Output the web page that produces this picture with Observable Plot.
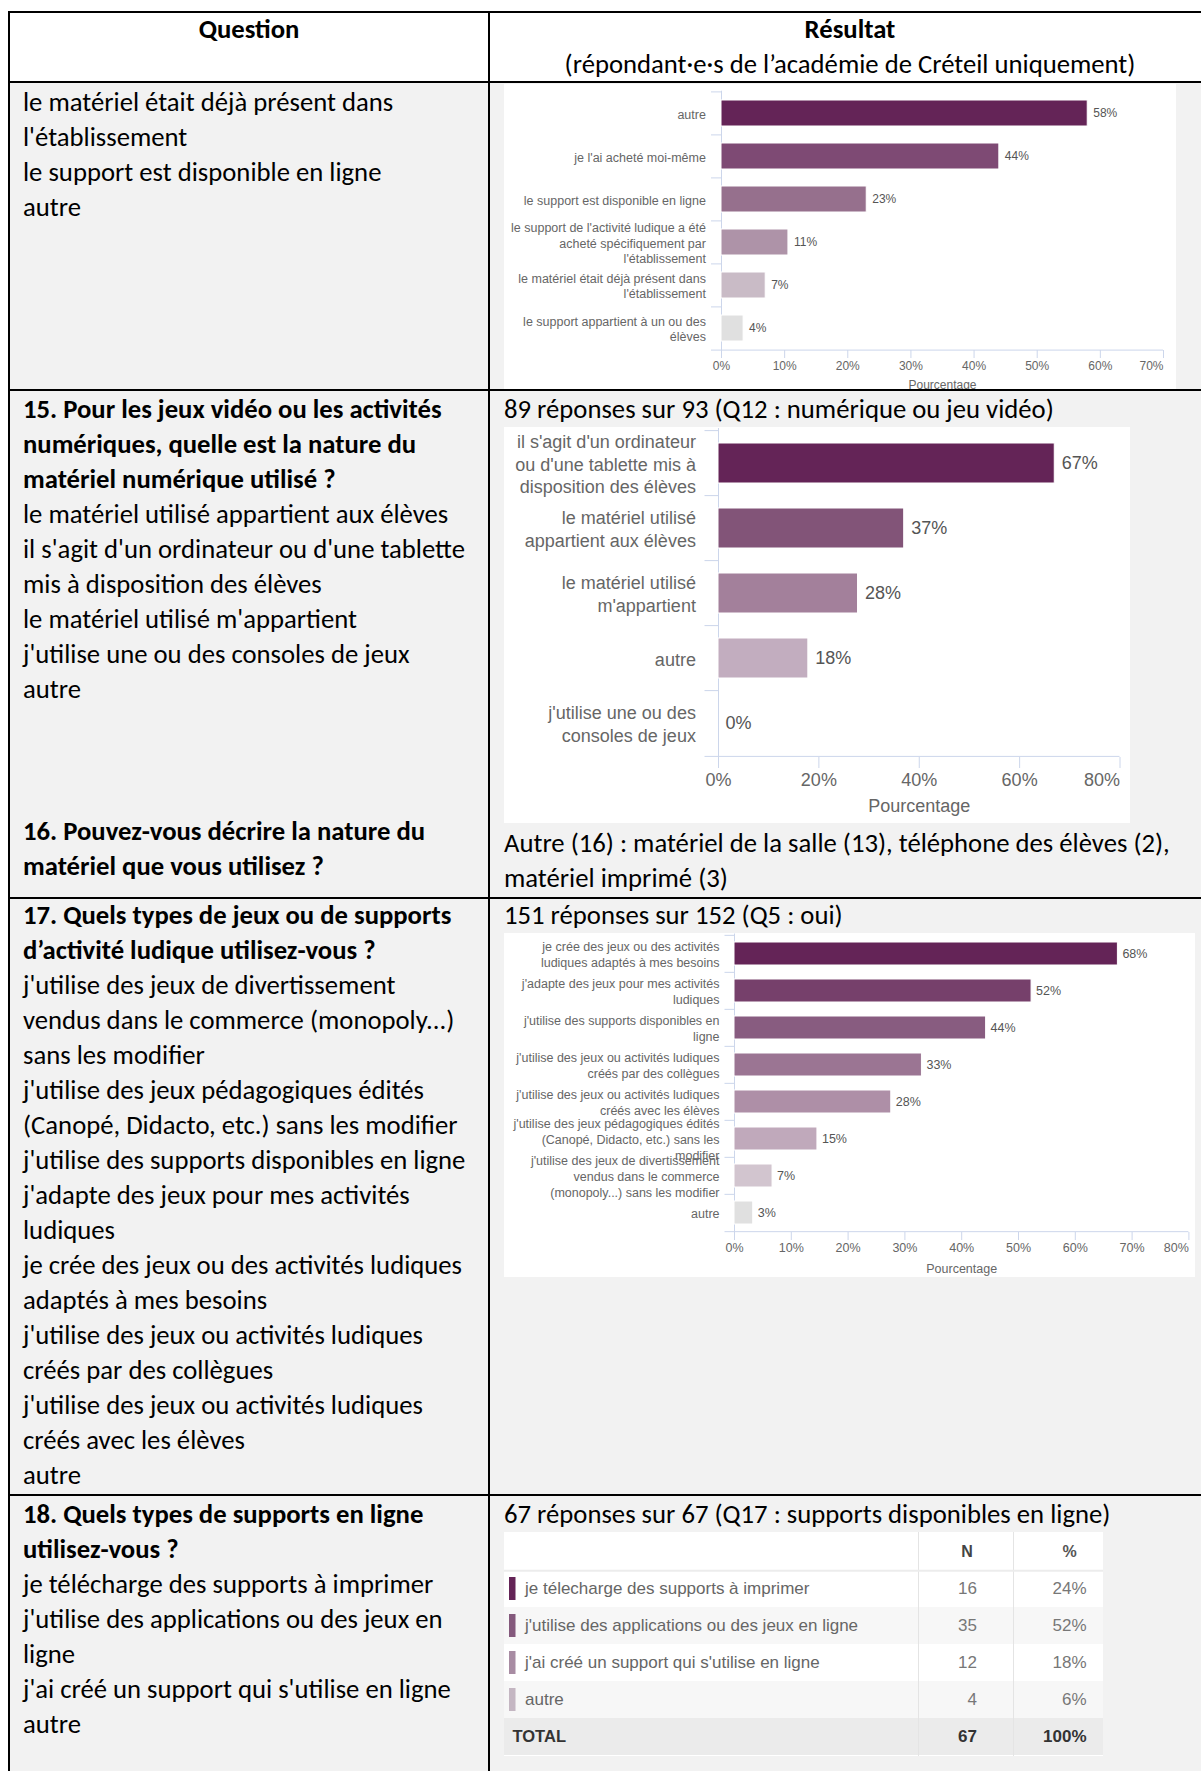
<!DOCTYPE html>
<html><head><meta charset="utf-8">
<script src="https://cdn.jsdelivr.net/npm/d3@7"></script>
<script src="https://cdn.jsdelivr.net/npm/@observablehq/plot@0.6"></script>
<style>
body{margin:0;background:#fff;}
#page{position:relative;width:1201px;height:1771px;overflow:hidden;background:#fff;font-family:Carlito,Calibri,Lato,sans-serif;color:#000;}
.txt{position:absolute;font-size:26.7px;line-height:35px;white-space:pre;}
.b{font-weight:bold;}
.c{text-align:center;}
.bg{position:absolute;background:#f2f2f2;}
.hl{position:absolute;height:2px;background:#000;}
.vl{position:absolute;width:2px;background:#000;}
.chart{position:absolute;background:#fff;overflow:hidden;}
.chart svg{display:block;}
</style></head>
<body><div id="page"></div>
<script>
// ---------- data ----------
const q14Categories = ["autre","je l'ai acheté moi-même","le support est disponible en ligne","le support de l'activité ludique a été acheté spécifiquement par l'établissement","le matériel était déjà présent dans l'établissement","le support appartient à un ou des élèves"];
const q14Labels = ["autre","je l'ai acheté moi-même","le support est disponible en ligne","le support de l'activité ludique a été\nacheté spécifiquement par\nl'établissement","le matériel était déjà présent dans\nl'établissement","le support appartient à un ou des\nélèves"];
const q14Values = [58, 44, 23, 10.6, 7, 3.5];
const q14Ticks = [0, 10, 20, 30, 40, 50, 60, 70];

const q15Categories = ["il s'agit d'un ordinateur ou d'une tablette mis à disposition des élèves","le matériel utilisé appartient aux élèves","le matériel utilisé m'appartient","autre","j'utilise une ou des consoles de jeux"];
const q15Labels = ["il s'agit d'un ordinateur\nou d'une tablette mis à\ndisposition des élèves","le matériel utilisé\nappartient aux élèves","le matériel utilisé\nm'appartient","autre","j'utilise une ou des\nconsoles de jeux"];
const q15Values = [67, 37, 27.8, 17.9, 0];
const q15Ticks = [0, 20, 40, 60, 80];

const q17Categories = ["je crée des jeux ou des activités ludiques adaptés à mes besoins","j'adapte des jeux pour mes activités ludiques","j'utilise des supports disponibles en ligne","j'utilise des jeux ou activités ludiques créés par des collègues","j'utilise des jeux ou activités ludiques créés avec les élèves","j'utilise des jeux pédagogiques édités (Canopé, Didacto, etc.) sans les modifier","j'utilise des jeux de divertissement vendus dans le commerce (monopoly...) sans les modifier","autre"];
const q17Labels = ["je crée des jeux ou des activités\nludiques adaptés à mes besoins","j'adapte des jeux pour mes activités\nludiques","j'utilise des supports disponibles en\nligne","j'utilise des jeux ou activités ludiques\ncréés par des collègues","j'utilise des jeux ou activités ludiques\ncréés avec les élèves","j'utilise des jeux pédagogiques édités\n(Canopé, Didacto, etc.) sans les\nmodifier","j'utilise des jeux de divertissement\nvendus dans le commerce\n(monopoly...) sans les modifier","autre"];
const q17Values = [67.5, 52.3, 44.3, 33, 27.6, 14.6, 6.7, 3.3];
const q17Ticks = [0, 10, 20, 30, 40, 50, 60, 70, 80];

const q18Labels = ["je télecharge des supports à imprimer","j'utilise des applications ou des jeux en ligne","j'ai créé un support qui s'utilise en ligne","autre"];
const q18N = [16, 35, 12, 4];
const q18Pct = [24, 52, 18, 6];
const q18TotalN = 67;
const q18TotalPct = 100;

// ---------- styles ----------
const q14Colors = ["#642457","#7e4a74","#96708d","#ae93a8","#c9bbc6","#e0e0e0"];
const q15Colors = ["#642457","#825478","#a3809b","#c2adbf","#e0e0e0"];
const q17Colors = ["#642457","#76406b","#885c80","#9b7593","#ae8fa7","#c0a9bb","#d2c5cf","#e0e0e0"];
const q18Colors = ["#642457","#84597c","#a88ca3","#c4b6c2"];
const q18RowFills = ["#ffffff","#ffffff","#f7f7f7","#ffffff","#f7f7f7","#ebebeb"];
const AXIS = "#ccd6eb";
const HC_FONT = "'Liberation Sans', Arial, Helvetica, sans-serif";

const page = document.getElementById("page");
function box(cls, l, t, w, h) {
  const d = document.createElement("div");
  d.className = cls;
  d.style.left = l + "px"; d.style.top = t + "px";
  if (w != null) d.style.width = w + "px";
  if (h != null) d.style.height = h + "px";
  page.appendChild(d);
  return d;
}
const SHIFT = -1;
function lines(x, centerY, arr, extra, w) {
  arr.forEach((s, i) => {
    const d = box("txt" + (extra ? " " + extra : ""), x, centerY - 17.5 + SHIFT + i * 35, w);
    d.textContent = s;
  });
}

// backgrounds & borders
box("bg", 9, 82, 1192, 1689);
[11, 81, 389, 897, 1494].forEach(y => box("hl", 8, y, 1193));
box("vl", 8, 11, null, 1760);
box("vl", 488, 11, null, 1760);

// header
lines(9, 30, ["Question"], "b c", 480);
lines(489, 30, ["Résultat"], "b c", 722);
lines(489, 65, ["(répondant·e·s de l’académie de Créteil uniquement)"], "c", 722);

// left column
lines(23, 103, ["le matériel était déjà présent dans","l'établissement","le support est disponible en ligne","autre"]);
lines(23, 410, ["15. Pour les jeux vidéo ou les activités","numériques, quelle est la nature du","matériel numérique utilisé ?"], "b");
lines(23, 515, ["le matériel utilisé appartient aux élèves","il s'agit d'un ordinateur ou d'une tablette","mis à disposition des élèves","le matériel utilisé m'appartient","j'utilise une ou des consoles de jeux","autre"]);
lines(23, 832, ["16. Pouvez-vous décrire la nature du","matériel que vous utilisez ?"], "b");
lines(23, 916, ["17. Quels types de jeux ou de supports","d’activité ludique utilisez-vous ?"], "b");
lines(23, 986, ["j'utilise des jeux de divertissement","vendus dans le commerce (monopoly...)","sans les modifier","j'utilise des jeux pédagogiques édités","(Canopé, Didacto, etc.) sans les modifier","j'utilise des supports disponibles en ligne","j'adapte des jeux pour mes activités","ludiques","je crée des jeux ou des activités ludiques","adaptés à mes besoins","j'utilise des jeux ou activités ludiques","créés par des collègues","j'utilise des jeux ou activités ludiques","créés avec les élèves","autre"]);
lines(23, 1515, ["18. Quels types de supports en ligne","utilisez-vous ?"], "b");
lines(23, 1585, ["je télécharge des supports à imprimer","j'utilise des applications ou des jeux en","ligne","j'ai créé un support qui s'utilise en ligne","autre"]);

// right column texts
lines(504, 410, ["89 réponses sur 93 (Q12 : numérique ou jeu vidéo)"]);
lines(504, 844, ["Autre (16) : matériel de la salle (13), téléphone des élèves (2),","matériel imprimé (3)"]);
lines(504, 916, ["151 réponses sur 152 (Q5 : oui)"]);
lines(504, 1515, ["67 réponses sur 67 (Q17 : supports disponibles en ligne)"]);

// ---------- bar charts ----------
function barChart(o) {
  const data = o.categories.map((c, i) => ({cat: c, label: o.labels[i], value: o.values[i], color: o.colors[i]}));
  const n = data.length;
  const max = d3.max(o.ticks);
  const step = (o.height - o.mt - o.mb) / n;
  const unit = (o.width - o.ml - o.mr) / max;
  const tickUnits = o.bandTick / unit;
  const last = o.categories[n - 1];
  return Plot.plot({
    width: o.width, height: o.height,
    marginLeft: o.ml, marginRight: o.mr, marginTop: o.mt, marginBottom: o.mb,
    style: {fontFamily: HC_FONT, fontSize: o.tickFont + "px", background: "transparent", overflow: "visible"},
    x: {domain: [0, max]},
    y: {domain: o.categories, paddingInner: o.pad, paddingOuter: o.pad / 2, axis: null},
    color: {type: "identity"},
    marks: [
      Plot.ruleY(o.categories, {y: d => d, dy: -step / 2, x1: -tickUnits, x2: 0, stroke: AXIS}),
      Plot.ruleY([last], {y: d => d, dy: step / 2, x1: -tickUnits, x2: max, stroke: AXIS}),
      Plot.ruleX([0], {stroke: AXIS}),
      Plot.axisX(o.ticks, {tickFormat: d => d === max ? "" : d + "%", tickSize: o.tickSize, tickPadding: o.tickPadding, stroke: AXIS, fill: "#666", fontSize: o.tickFont, label: null}),
      Plot.text([max], {x: d => d, text: d => d + "%", frameAnchor: "bottom", lineAnchor: "top", textAnchor: "end", dx: 0, dy: o.tickSize + o.tickPadding, fill: "#666", fontSize: o.tickFont}),
      Plot.text(["Pourcentage"], {frameAnchor: "bottom", dy: o.titleDy, fill: "#666", fontSize: o.tickFont}),
      Plot.barX(data, {x: "value", y: "cat", fill: "color", stroke: "#fff", strokeWidth: 1}),
      Plot.text(data, {x: "value", y: "cat", text: d => Math.round(d.value) + "%", textAnchor: "start", dx: o.valDx, fill: "#555", fontSize: o.valFont}),
      Plot.text(data, {y: "cat", text: "label", frameAnchor: "left", textAnchor: "end", dx: o.labelDx, fill: "#666", fontSize: o.labelFont, lineHeight: o.lineHeight})
    ]
  });
}
function place(svg, l, t, w, h) {
  const d = box("chart", l, t, w, h);
  d.appendChild(svg);
}

place(barChart({categories: q14Categories, labels: q14Labels, values: q14Values, colors: q14Colors, ticks: q14Ticks,
  width: 672, height: 330, ml: 217, mr: 13, mt: 6.7, mb: 64, pad: 0.4,
  bandTick: 10, tickSize: 8, tickPadding: 3, tickFont: 12, titleDy: 38,
  valDx: 5.5, valFont: 12, labelDx: -15.6, labelFont: 12.5, lineHeight: 1.25}), 504, 84, 672, 305);

place(barChart({categories: q15Categories, labels: q15Labels, values: q15Values, colors: q15Colors, ticks: q15Ticks,
  width: 626, height: 396, ml: 214, mr: 10.5, mt: 1, mb: 66, pad: 0.39,
  bandTick: 13.5, tickSize: 11, tickPadding: 5, tickFont: 18, titleDy: 54,
  valDx: 7, valFont: 18, labelDx: -22.6, labelFont: 18, lineHeight: 1.25}), 504, 427, 626, 396);

place(barChart({categories: q17Categories, labels: q17Labels, values: q17Values, colors: q17Colors, ticks: q17Ticks,
  width: 691, height: 344, ml: 230, mr: 6.6, mt: 0.5, mb: 45, pad: 0.375,
  bandTick: 9.5, tickSize: 8, tickPadding: 3, tickFont: 12.5, titleDy: 40,
  valDx: 4.5, valFont: 12.5, labelDx: -15, labelFont: 12.5, lineHeight: 1.25}), 504, 933, 691, 344);

// ---------- Q18 table ----------
function tableChart() {
  const W = 599, H = 224;
  const colN = 414, colP = 509;
  const items = q18Labels.map((l, i) => ({key: l, label: l, n: q18N[i], pct: q18Pct[i], color: q18Colors[i]}));
  const rowKeys = ["__head", ...q18Labels, "__total"];
  const rows = rowKeys.map((k, i) => ({key: k, fill: q18RowFills[i]}));
  const step = H / rowKeys.length;
  return Plot.plot({
    width: W, height: H, marginLeft: 0, marginRight: 0, marginTop: 0, marginBottom: 0,
    style: {fontFamily: HC_FONT, fontSize: "17px", background: "transparent"},
    x: {domain: [0, W], axis: null},
    y: {domain: rowKeys, padding: 0, axis: null},
    color: {type: "identity"},
    marks: [
      Plot.barX(rows, {x1: 0, x2: W, y: "key", fill: "fill"}),
      Plot.ruleX([colN, colP], {stroke: "#e4e4e4"}),
      Plot.ruleY(["__head"], {y: d => d, dy: step / 2, stroke: "#ececec", strokeWidth: 2}),
      Plot.barX(items, {x1: 5, x2: 11.5, y: "key", fill: "color", insetTop: 7, insetBottom: 7}),
      Plot.text(items, {x: 20.5, y: "key", text: "label", textAnchor: "start", fill: "#666", fontSize: 17}),
      Plot.text(items, {x: 472.5, y: "key", text: d => String(d.n), textAnchor: "end", fill: "#777", fontSize: 17}),
      Plot.text(items, {x: 582, y: "key", text: d => d.pct + "%", textAnchor: "end", fill: "#777", fontSize: 17}),
      Plot.text(["N"], {x: 462.6, y: () => "__head", fontWeight: "bold", fill: "#444", fontSize: 16}),
      Plot.text(["%"], {x: 565, y: () => "__head", fontWeight: "bold", fill: "#555", fontSize: 16}),
      Plot.text(["TOTAL"], {x: 8, y: () => "__total", textAnchor: "start", fontWeight: "bold", fill: "#333", fontSize: 16.5}),
      Plot.text([q18TotalN], {x: 472.5, y: () => "__total", text: d => String(d), textAnchor: "end", fontWeight: "bold", fill: "#333", fontSize: 17}),
      Plot.text([q18TotalPct], {x: 582, y: () => "__total", text: d => d + "%", textAnchor: "end", fontWeight: "bold", fill: "#333", fontSize: 17})
    ]
  });
}
place(tableChart(), 504, 1532, 599, 224);
</script>
</body></html>
